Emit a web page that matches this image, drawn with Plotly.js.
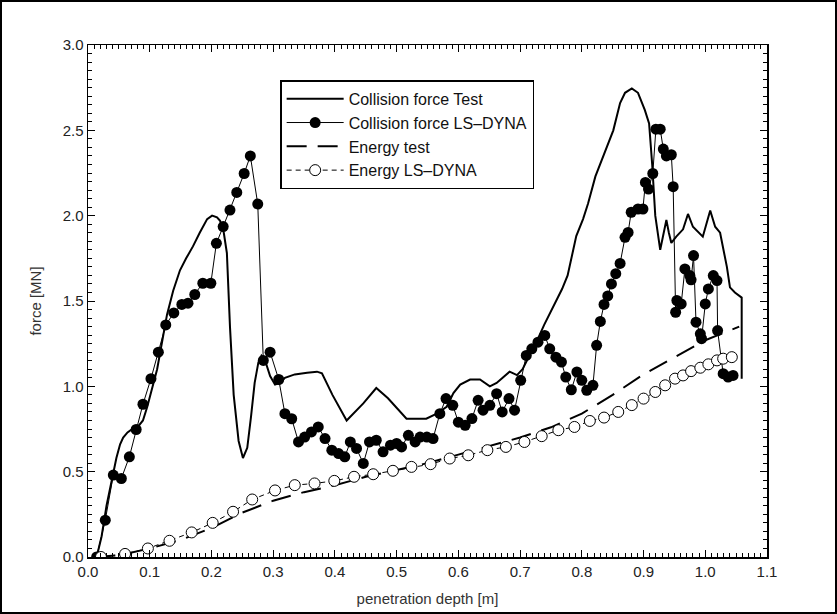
<!DOCTYPE html>
<html>
<head>
<meta charset="utf-8">
<script src="https://cdn.plot.ly/plotly-3.0.1.min.js"></script>
<style>
html,body{margin:0;padding:0;background:#fff;}
#wrap{position:relative;width:837px;height:614px;}
#chart{width:837px;height:614px;}
#frame{position:absolute;left:0;top:0;width:833px;height:610px;border:2px solid #000;pointer-events:none;}
</style>
</head>
<body>
<div id="wrap"><div id="chart"></div><div id="frame"></div></div>
<script>
// Collision force Test (solid line)
const testX = [0.014,0.022,0.030,0.038,0.046,0.052,0.057,0.064,0.072,0.080,0.089,0.096,0.103,0.112,0.122,0.128,0.138,0.149,0.159,0.170,0.181,0.193,0.201,0.209,0.214,0.22,0.225,0.23,0.236,0.244,0.251,0.258,0.264,0.27,0.276,0.281,0.287,0.295,0.303,0.311,0.319,0.335,0.355,0.371,0.379,0.396,0.419,0.446,0.467,0.486,0.516,0.548,0.565,0.581,0.592,0.603,0.619,0.635,0.651,0.662,0.683,0.695,0.704,0.711,0.719,0.729,0.739,0.749,0.759,0.768,0.777,0.791,0.802,0.81,0.822,0.835,0.851,0.862,0.87,0.881,0.891,0.902,0.909,0.914,0.919,0.927,0.933,0.937,0.941,0.945,0.953,0.964,0.972,0.98,0.996,1.008,1.016,1.024,1.035,1.04,1.048,1.059,1.059];
const testY = [0.0,0.12,0.3,0.45,0.58,0.66,0.7,0.73,0.75,0.76,0.8,0.88,0.97,1.1,1.3,1.42,1.56,1.68,1.75,1.82,1.9,1.98,2.0,1.99,1.97,1.9,1.78,1.35,0.95,0.68,0.58,0.64,0.82,1.02,1.14,1.18,1.15,1.06,1.01,1.02,1.05,1.07,1.08,1.086,1.076,0.95,0.8,0.9,0.99,0.93,0.81,0.81,0.84,0.88,0.96,1.01,1.04,1.04,1.0,1.02,1.086,1.066,1.1,1.15,1.21,1.28,1.36,1.43,1.5,1.57,1.65,1.88,1.98,2.07,2.23,2.35,2.5,2.66,2.72,2.745,2.72,2.62,2.54,2.3,2.0,1.8,1.9,1.975,1.9,1.84,1.877,1.92,2.01,1.935,1.877,2.03,1.935,1.9,1.7,1.58,1.55,1.52,1.045];

// Collision force LS-DYNA (filled dots)
const dynaX = [0.014,0.028,0.041,0.054,0.067,0.078,0.089,0.102,0.114,0.126,0.139,0.152,0.162,0.173,0.186,0.199,0.208,0.219,0.23,0.241,0.253,0.263,0.275,0.284,0.295,0.309,0.319,0.33,0.341,0.351,0.362,0.373,0.384,0.395,0.406,0.416,0.425,0.435,0.446,0.456,0.467,0.478,0.49,0.5,0.508,0.519,0.53,0.538,0.549,0.559,0.57,0.58,0.591,0.6,0.611,0.622,0.632,0.64,0.651,0.662,0.671,0.682,0.691,0.701,0.71,0.719,0.729,0.74,0.748,0.758,0.767,0.774,0.783,0.792,0.8,0.808,0.818,0.824,0.83,0.836,0.842,0.848,0.855,0.862,0.87,0.875,0.88,0.891,0.899,0.903,0.908,0.915,0.92,0.927,0.932,0.937,0.945,0.948,0.952,0.954,0.961,0.967,0.975,0.977,0.981,0.985,0.992,0.994,1.0,1.005,1.013,1.019,1.02,1.029,1.037,1.045];
const dynaY = [0.0,0.216,0.48,0.46,0.587,0.747,0.895,1.045,1.2,1.36,1.43,1.48,1.487,1.538,1.604,1.604,1.838,1.936,2.033,2.136,2.247,2.35,2.068,1.152,1.2,1.04,0.84,0.81,0.674,0.703,0.733,0.762,0.694,0.626,0.606,0.587,0.674,0.636,0.548,0.674,0.684,0.616,0.655,0.665,0.645,0.713,0.674,0.703,0.703,0.694,0.84,0.928,0.889,0.79,0.772,0.811,0.918,0.86,0.889,0.957,0.85,0.928,0.86,1.035,1.181,1.22,1.259,1.298,1.22,1.171,1.142,1.054,0.98,1.084,1.035,0.977,1.006,1.24,1.38,1.48,1.53,1.6,1.66,1.72,1.873,1.902,2.02,2.039,2.039,2.195,2.156,2.247,2.507,2.507,2.39,2.35,2.357,2.17,1.434,1.503,1.483,1.688,1.649,1.624,1.766,1.376,1.308,1.279,1.483,1.571,1.649,1.62,1.327,1.074,1.054,1.064];

// Energy test (long dashes)
const energyTestX = [0.012,0.05,0.1,0.15,0.2,0.25,0.3,0.35,0.4,0.45,0.5,0.55,0.6,0.65,0.7,0.75,0.8,0.85,0.9,0.95,1.0,1.055];
const energyTestY = [0.0,0.01,0.05,0.1,0.17,0.26,0.33,0.38,0.42,0.47,0.51,0.55,0.6,0.65,0.7,0.76,0.84,0.95,1.07,1.17,1.27,1.35];

// Energy LS-DYNA (open circles)
const energyDynaX = [0.021,0.06,0.097,0.132,0.168,0.202,0.235,0.266,0.303,0.335,0.367,0.399,0.431,0.462,0.494,0.524,0.555,0.586,0.616,0.647,0.677,0.707,0.735,0.762,0.788,0.813,0.836,0.859,0.881,0.9,0.919,0.935,0.951,0.964,0.977,0.992,1.005,1.019,1.029,1.043];
const energyDynaY = [0.0,0.018,0.05,0.095,0.144,0.2,0.265,0.337,0.39,0.421,0.431,0.446,0.47,0.485,0.505,0.528,0.544,0.577,0.596,0.626,0.645,0.674,0.708,0.743,0.762,0.797,0.817,0.85,0.89,0.928,0.967,1.006,1.045,1.064,1.089,1.109,1.129,1.152,1.162,1.171];

const seriesNames = ['Collision force Test','Collision force LS\u2013DYNA','Energy test','Energy LS\u2013DYNA'];
const xTickVals = [0,0.1,0.2,0.3,0.4,0.5,0.6,0.7,0.8,0.9,1.0,1.1];
const xTickText = ['0.0','0.1','0.2','0.3','0.4','0.5','0.6','0.7','0.8','0.9','1.0','1.1'];
const yTickVals = [0,0.5,1.0,1.5,2.0,2.5,3.0];
const yTickText = ['0.0','0.5','1.0','1.5','2.0','2.5','3.0'];

const FONT = 'Liberation Sans, Arial, sans-serif';

const traces = [
  {x: testX, y: testY, name: seriesNames[0], mode: 'lines', line: {color: '#000', width: 2}},
  {x: dynaX, y: dynaY, name: seriesNames[1], mode: 'lines+markers', line: {color: '#000', width: 1},
   marker: {symbol: 'circle', size: 11, color: '#000', line: {color: '#000', width: 0}}},
  {x: energyTestX, y: energyTestY, name: seriesNames[2], mode: 'lines', line: {color: '#000', width: 2, dash: '20px,11px'}},
  {x: energyDynaX, y: energyDynaY, name: seriesNames[3], mode: 'lines+markers', line: {color: '#000', width: 1, dash: '5px,4px'},
   marker: {symbol: 'circle', size: 11, color: '#fff', line: {color: '#000', width: 1}}}
];

const axisCommon = {
  showline: true, linecolor: '#000', linewidth: 1.5, mirror: 'allticks',
  ticks: 'inside', ticklen: 7, tickwidth: 1, tickcolor: '#000',
  showgrid: false, zeroline: false,
  tickfont: {family: FONT, size: 15, color: '#222'},
};

const layout = {
  width: 837, height: 614,
  margin: {l: 88, r: 70, t: 45, b: 57},
  paper_bgcolor: '#fff', plot_bgcolor: '#fff',
  showlegend: true,
  legend: {
    x: 0.283, y: 0.931, xanchor: 'left', yanchor: 'top',
    bgcolor: '#fff', bordercolor: '#000', borderwidth: 1.5,
    font: {family: FONT, size: 16, color: '#111'},
    itemwidth: 57, tracegroupgap: 0
  },
  xaxis: Object.assign({}, axisCommon, {
    range: [0, 1.1], tickmode: 'array', tickvals: xTickVals, ticktext: xTickText,
    minor: {ticks: 'inside', dtick: 0.01, ticklen: 4, tickcolor: '#000', tickwidth: 1},
    title: {text: 'penetration depth [m]', font: {family: FONT, size: 15, color: '#333'}, standoff: 15}
  }),
  yaxis: Object.assign({}, axisCommon, {
    range: [0, 3.0], tickmode: 'array', tickvals: yTickVals, ticktext: yTickText,
    minor: {ticks: 'inside', dtick: 0.05, ticklen: 4, tickcolor: '#000', tickwidth: 1},
    title: {text: 'force [MN]', font: {family: FONT, size: 15, color: '#333'}, standoff: 17}
  })
};

Plotly.newPlot('chart', traces, layout, {displayModeBar: false, staticPlot: true});
</script>
</body>
</html>
